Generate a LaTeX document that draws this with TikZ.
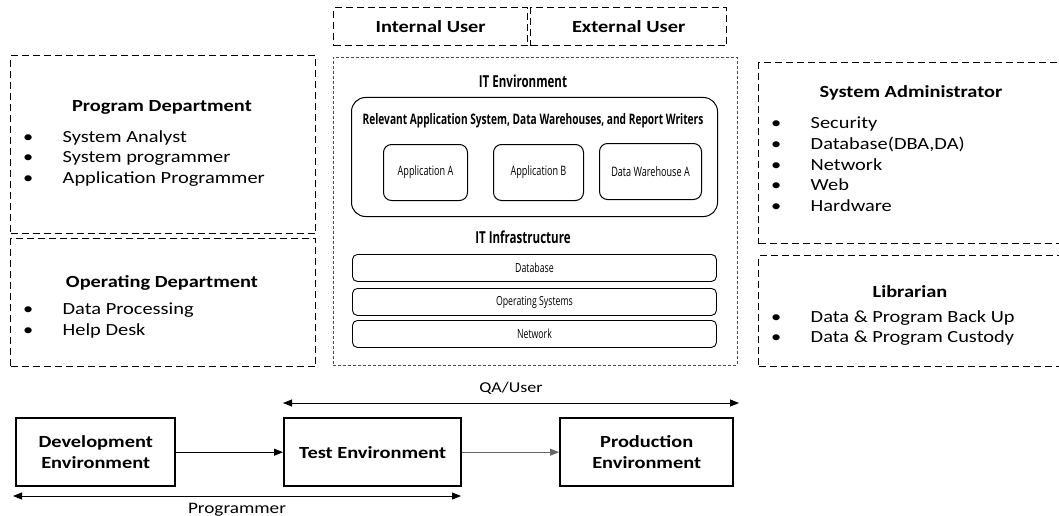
\documentclass[tikz,border=0pt]{standalone}
\usepackage{fontspec}
\setmainfont[FakeStretch=1.2]{Carlito}
\newfontfamily\condfont[FakeStretch=0.7]{Open Sans}
\usetikzlibrary{arrows.meta}
\tikzset{
  x=1pt, y=-1pt,
  grpbox/.style={draw, dash pattern=on 7pt off 4pt, line width=1.3pt, anchor=north west, inner sep=0pt},
  envbox/.style={draw=black!70, dash pattern=on 3pt off 2pt, line width=0.9pt, anchor=north west, inner sep=0pt},
  userbox/.style={draw, dash pattern=on 7pt off 4pt, line width=1.3pt, anchor=north west, inner sep=0pt,
     font=\fontsize{17}{20}\selectfont\bfseries},
  appbox/.style={draw, rounded corners=8pt, line width=1pt, anchor=north west, inner sep=0pt,
     font=\condfont\fontsize{13}{16}\selectfont},
  barbox/.style={draw, rounded corners=5pt, line width=0.9pt, anchor=north west, inner sep=0pt,
     font=\condfont\fontsize{12.5}{14}\selectfont},
  stagebox/.style={draw, line width=2.4pt, anchor=north west, inner sep=0pt, align=center,
     font=\fontsize{17}{20.5}\selectfont\bfseries},
  head/.style={font=\fontsize{17}{20}\selectfont\bfseries, inner sep=0pt},
  items/.style={font=\fontsize{17}{20.6}\selectfont, align=left, anchor=north west, inner sep=0pt},
  envhead/.style={font=\condfont\fontsize{16.5}{19}\selectfont\bfseries, inner sep=0pt},
  flow/.style={-{Triangle[length=9pt,width=7pt]}, line width=0.8pt},
  span/.style={{Triangle[length=9pt,width=7pt]}-{Triangle[length=9pt,width=7pt]}, line width=0.8pt},
}
\newcommand{\bul}{\makebox[39.5pt][l]{\textbullet}}
\begin{document}
\begin{tikzpicture}
\useasboundingbox (0,0) rectangle (1059,516);
\clip (0,0) rectangle (1059,516);

% users
\node[userbox, minimum width=194pt, minimum height=38pt] (intu) at (333,7) {Internal User};
\node[userbox, minimum width=196pt, minimum height=38pt] (extu) at (530,7) {External User};

% IT environment
\node[envbox, minimum width=404pt, minimum height=308pt] (env) at (333,57) {};
\node[envhead] (envt) at (523,81) {IT Environment};
\node[draw, rounded corners=14pt, line width=1pt, anchor=north west, inner sep=0pt,
      minimum width=366pt, minimum height=119pt] (rel) at (351,97) {};
\node[envhead, font=\condfont\fontsize{14.5}{17}\selectfont\bfseries] (relt) at (533,121) {Relevant Application System, Data Warehouses, and Report Writers};
\node[appbox, minimum width=84pt, minimum height=56pt] (appa) at (383,144) {Application A};
\node[appbox, minimum width=90pt, minimum height=56pt] (appb) at (493,144) {Application B};
\node[appbox, minimum width=102pt, minimum height=56pt] (dwa) at (599,143) {Data Warehouse A};
\node[envhead] (inft) at (523,237) {IT Infrastructure};
\node[barbox, minimum width=364pt, minimum height=27pt] (db) at (352,254) {Database};
\node[barbox, minimum width=364pt, minimum height=27pt] (os) at (352,288) {Operating Systems};
\node[barbox, minimum width=364pt, minimum height=27pt] (net) at (352,320) {Network};

% left groups
\node[grpbox, minimum width=305pt, minimum height=178pt] (prog) at (10,55) {};
\node[head] (progt) at (162,107) {Program Department};
\node[items] (progi) at (23,130) {\bul System Analyst\\ \bul System programmer\\ \bul Application Programmer};

\node[grpbox, minimum width=305pt, minimum height=128pt] (oper) at (10,238) {};
\node[head] (opert) at (162,283) {Operating Department};
\node[items] (operi) at (23,303) {\bul Data Processing\\ \bul Help Desk};

% right groups
\node[grpbox, minimum width=306pt, minimum height=181pt] (sysad) at (758,62) {};
\node[head] (sysadt) at (911,93) {System Administrator};
\node[items] (sysadi) at (771,117) {\bul Security\\ \bul Database(DBA,DA)\\ \bul Network\\ \bul Web\\ \bul Hardware};

\node[grpbox, minimum width=306pt, minimum height=111pt] (lib) at (758,255) {};
\node[head] (libt) at (910,292) {Librarian};
\node[items] (libi) at (771,310) {\bul Data \& Program Back Up\\ \bul Data \& Program Custody};

% stages
\node[stagebox, minimum width=159pt, minimum height=68pt] (dev) at (15,417) {Development\\Environment};
\node[stagebox, minimum width=177pt, minimum height=68pt] (test) at (283,417) {Test Environment};
\node[stagebox, minimum width=173pt, minimum height=68pt] (prod) at (559,417) {Production\\Environment};

\draw[flow] (dev) -- (test);
\draw[flow, draw=black!60] (test) -- (prod);

\coordinate (qa1) at (283,403);
\coordinate (qa2) at (739,403);
\draw[span] (qa1) -- node[above=5pt, font=\fontsize{15}{18}\selectfont] (qal) {QA/User} (qa2);
\coordinate (pr1) at (13,496);
\coordinate (pr2) at (461,496);
\draw[span] (pr1) -- node[below=3pt, font=\fontsize{16}{19}\selectfont] (prl) {Programmer} (pr2);
\end{tikzpicture}
\end{document}
